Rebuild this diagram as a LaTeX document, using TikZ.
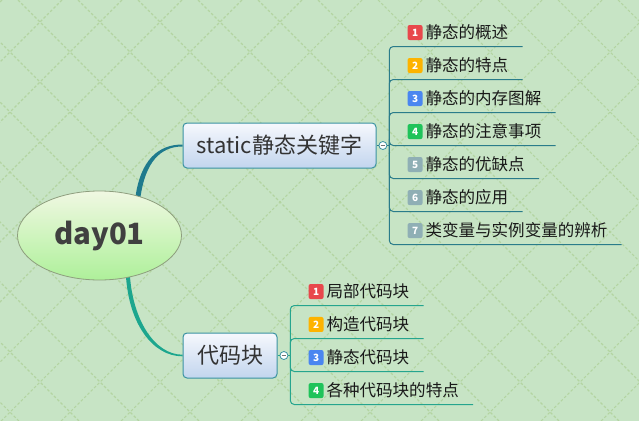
\documentclass[tikz,border=0pt]{standalone}
\usepackage{fontspec}
\newfontfamily\cjk{Noto Sans CJK SC}
\usetikzlibrary{positioning, shapes.geometric, calc}
\usepackage{xcolor}

\definecolor{paperbg}{HTML}{C7E4C5}
\definecolor{paperdash}{HTML}{B3D4A1}
\definecolor{linkA}{HTML}{1E7A8D}
\definecolor{linkB}{HTML}{1CA68E}
\definecolor{tealA}{HTML}{2A7C8A}
\definecolor{tealB}{HTML}{25A58E}
\definecolor{boxline}{HTML}{3A92A2}
\definecolor{boxtop}{HTML}{F6F8FD}
\definecolor{boxbot}{HTML}{C2D5EE}
\definecolor{eggtop}{HTML}{F0F8E2}
\definecolor{eggbot}{HTML}{AEF09A}
\definecolor{eggline}{HTML}{8E9E7E}
\definecolor{pr1}{HTML}{E8484C}
\definecolor{pr2}{HTML}{FDB300}
\definecolor{pr3}{HTML}{4A86F0}
\definecolor{pr4}{HTML}{1FC35A}
\definecolor{pr5}{HTML}{8FAFB5}

\pgfdeclarelayer{paper}
\pgfdeclarelayer{links}
\pgfsetlayers{paper,links,main}

\tikzset{
    % priority badge in front of a subtopic
    prbox/.style={rectangle, anchor=center, rounded corners=1.5pt, minimum size=11.25pt, inner sep=0pt,
        text=white, font=\cjk\bfseries\fontsize{7.5}{7.5}\selectfont},
}
\newcommand\prio[2]{\tikz[baseline={(0,-4.4pt)}]\node[prbox, fill=#1] {#2};}

\begin{document}
\begin{tikzpicture}[
    x=0.75pt, y=-0.75pt,
    % Central topic
    rootegg/.style={ellipse, draw=eggline, line width=0.6pt, top color=eggtop, bottom color=eggbot,
        minimum width=123pt, minimum height=66.75pt, inner sep=0pt,
        text=black!75, font=\cjk\bfseries\fontsize{22}{22}\selectfont},
    % Main topics
    topicbox/.style={rectangle, rounded corners=3pt, draw=boxline, line width=0.75pt,
        top color=boxtop, bottom color=boxbot, minimum height=33.75pt, inner xsep=0pt,
        text=black!80, font=\cjk\fontsize{16.5}{18}\selectfont},
    % Collapse button
    toggle/.style={circle, draw=boxline, fill=white, line width=0.6pt, minimum size=6pt, inner sep=0pt,
        path picture={\draw[black!55, line width=0.6pt] ([xshift=1.3pt]path picture bounding box.west)
            -- ([xshift=-1.3pt]path picture bounding box.east);}},
    % Subtopics (the south side is the underline)
    leaf/.style={anchor=south west, inner sep=0pt, minimum height=21pt,
        text=black!90, font=\cjk\fontsize{12.4}{14}\selectfont},
    % Lines
    twigA/.style={draw=tealA, line width=0.75pt, rounded corners=3pt},
    twigB/.style={draw=tealB, line width=0.75pt, rounded corners=3pt},
    lattice/.style={draw=paperdash, line width=0.8pt, dash pattern=on 2pt off 1.5pt},
]
\useasboundingbox (0,0) rectangle (639,421);

% Paper with the dashed lattice
\begin{pgfonlayer}{paper}
    \fill[paperbg] (0,0) rectangle (639,421);
    \begin{scope}
        \clip (0,0) rectangle (639,421);
        \foreach \k in {-8,...,17} {
            \draw[lattice] ({18+60*\k},0) -- ({18+60*\k+421},421);
            \draw[lattice] ({62+60*\k},0) -- ({62+60*\k-421},421);
        }
    \end{scope}
\end{pgfonlayer}

% Central topic and main topics
\node[rootegg] (day) at (99.5,235.5) {day01};
\node[topicbox, minimum width=144.75pt] (static) at (279.5,145.5) {static静态关键字};
\node[topicbox, minimum width=70.5pt] (code) at (230,355.5) {代码块};

% Collapse buttons and hubs
\node[toggle, right=1.5pt of static] (togA) {};
\coordinate[right=1.5pt of togA] (hubA);
\node[toggle, right=1.5pt of code] (togB) {};
\coordinate[right=1.5pt of togB] (hubB);

% Subtopics of static
\foreach \i/\c/\t in {1/pr1/静态的概述, 2/pr2/静态的特点, 3/pr3/静态的内存图解,
        4/pr4/静态的注意事项, 5/pr5/静态的优缺点, 6/pr5/静态的应用, 7/pr5/类变量与实例变量的辨析} {
    \node[leaf] (s\i) at ($(hubA)+(0,{33*\i-132})$)
        {\hspace*{13.5pt}\prio{\c}{\i}\hspace{2.25pt}\t\hspace*{10.5pt}};
    \draw[twigA] (hubA) |- (s\i.south east);
}

% Subtopics of the code blocks
\foreach \i/\c/\t in {1/pr1/局部代码块, 2/pr2/构造代码块, 3/pr3/静态代码块, 4/pr4/各种代码块的特点} {
    \node[leaf] (c\i) at ($(hubB)+(0,{33*\i-83})$)
        {\hspace*{13.5pt}\prio{\c}{\i}\hspace{2.25pt}\t\hspace*{10.5pt}};
    \draw[twigB] (hubB) |- (c\i.south east);
}

% Buttons to hubs
\draw[twigA] (static.east) -- (togA) -- (hubA);
\draw[twigB] (code.east) -- (togB) -- (hubB);

% Tapered branches from the central topic
\begin{pgfonlayer}{links}
    \fill[linkA] ($(day.46)+(-2.5,2)$) .. controls +(5,-38) and +(-24,0) .. ($(static.west)+(0,-1)$)
        -- ($(static.west)+(0,1)$) .. controls +(-22,0) and +(5,-36) .. ($(day.46)+(2.5,2)$) -- cycle;
    \fill[linkB] ($(day.-56)+(-2,-2)$) .. controls +(3,48) and +(-30,0) .. ($(code.west)+(0,0.8)$)
        -- ($(code.west)+(0,-0.8)$) .. controls +(-28,0) and +(3,44) .. ($(day.-56)+(2,-2)$) -- cycle;
\end{pgfonlayer}

\end{tikzpicture}
\end{document}
